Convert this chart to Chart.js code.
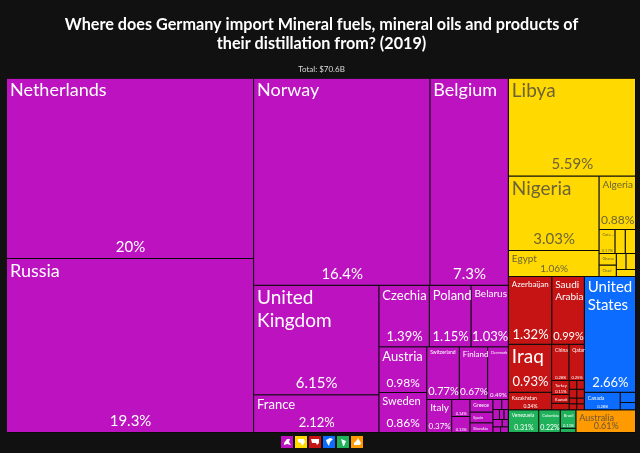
<!DOCTYPE html>
<html>
<head>
<meta charset="utf-8">
<title>Germany mineral fuel imports 2019</title>
<script src="https://cdn.jsdelivr.net/npm/chart.js@4.4.1/dist/chart.umd.min.js"></script>
<style>
	html, body { margin: 0; padding: 0; background: #111111; }
	#wrap { width: 640px; height: 453px; }
</style>
</head>
<body>
<div id="wrap"><canvas id="tree_chart"></canvas></div>

<script>
	// values, empty names are the tiny unlabelled cells
	const regionNames = ["Europe", "Africa", "Asia", "North America", "South America", "Oceania"]
	const regionColors = ["#bc12c0", "#ffd900", "#c61414", "#0b6cff", "#1fb25a", "#ff9a00"]

	const europeNames = ["Netherlands", "Russia", "Norway", "Belgium", "United Kingdom", "France", "Czechia", "Poland", "Belarus", "Austria", "Sweden", "Switzerland", "Finland", "Denmark", "Italy", "", "", "Greece", "Spain", "Slovakia", "", "", "", "", "", "", "", "", ""]
	const europeShares = [20, 19.3, 16.4, 7.3, 6.15, 2.12, 1.39, 1.15, 1.03, 0.98, 0.86, 0.77, 0.67, 0.49, 0.37, 0.14, 0.13, 0.13, 0.11, 0.1, 0.04, 0.03, 0.03, 0.02, 0.02, 0.03, 0.02, 0.02, 0.02]

	const africaNames = ["Libya", "Nigeria", "Egypt", "Algeria", "Cote...", "", "", "Ghana", "Chad", "", "", ""]
	const africaShares = [5.59, 3.03, 1.06, 0.88, 0.17, 0.11, 0.11, 0.09, 0.09, 0.07, 0.07, 0.06]

	const asiaNames = ["Azerbaijan", "Saudi Arabia", "Iraq", "Kazakhstan", "China", "Qatar", "Turkey", "Kuwait", "", "", "", "", "", "", "", "", ""]
	const asiaShares = [1.32, 0.99, 0.93, 0.34, 0.28, 0.25, 0.11, 0.07, 0.05, 0.03, 0.03, 0.03, 0.03, 0.02, 0.02, 0.02, 0.02]

	const northNames = ["United States", "Canada", "", ""]
	const northShares = [2.66, 0.28, 0.07, 0.05]

	const southNames = ["Venezuela", "Colombia", "Brazil", ""]
	const southShares = [0.31, 0.22, 0.13, 0.03]

	const oceaniaNames = ["Australia"]
	const oceaniaShares = [0.61]

	// [name size, share size] of the labels, other cells stay without text
	const labelSizes = {
		"Netherlands": [18, 15], "Russia": [18, 15], "Norway": [18, 15], "Belgium": [18, 15],
		"United Kingdom": [19, 15], "France": [13, 13], "Czechia": [13, 13], "Poland": [13, 13], "Belarus": [10, 13],
		"Austria": [13, 12], "Sweden": [11, 12], "Switzerland": [5, 11], "Finland": [8, 10], "Denmark": [4, 6],
		"Italy": [10, 8], "0.14": [0, 4], "0.13": [0, 4], "Greece": [5, 0], "Spain": [4, 0], "Slovakia": [4, 0],
		"Libya": [19, 15], "Nigeria": [19, 15], "Egypt": [10, 10], "Algeria": [10, 12], "Cote...": [4, 4], "Ghana": [4, 0], "Chad": [4, 0],
		"Azerbaijan": [8, 13], "Saudi Arabia": [10, 11], "Iraq": [19, 13], "Kazakhstan": [5, 5], "China": [5, 4], "Qatar": [5, 4],
		"Turkey": [4, 4], "Kuwait": [4, 0],
		"United States": [15, 13], "Canada": [5, 4],
		"Venezuela": [5, 7], "Colombia": [4, 7], "Brazil": [4, 4], "Australia": [9, 9]
	}

	var regionData = [
		[europeNames, europeShares], [africaNames, africaShares], [asiaNames, asiaShares],
		[northNames, northShares], [southNames, southShares], [oceaniaNames, oceaniaShares]
	]

	// how the cells nest: h = side by side, v = stacked, numbers index the region's arrays
	function r(region, list){ return list.map((i) => (typeof i == "number") ? [region, i] : i) }
	const eu = (...l) => r(0, l), af = (...l) => r(1, l), as = (...l) => r(2, l)
	const na = (...l) => r(3, l), sa = (...l) => r(4, l)

	const tree = {h: [
		{h: [
			{v: eu(0, 1)},
			{v: [
				{h: eu(2, 3)},
				{h: [
					{v: eu(4, 5)},
					{v: [
						{h: eu(6, 7, 8)},
						{h: [
							{v: eu(9, 10)},
							{v: [
								{h: eu(11, 12, 13)},
								{h: eu(14, {v: eu(15, 16)}, {v: eu(17, 18, 19)}, {v: [
									{h: eu(20, 21)}, {h: eu(22, 23, 24)}, {h: eu(25, 26)}, {h: eu(27, 28)}
								]})}
							]}
						]}
					]}
				]}
			]}
		]},
		{v: [
			{v: [
				{v: af(0)},
				{h: [
					{v: af(1, 2)},
					{v: [
						{v: af(3)},
						{v: [
							{h: af(4, 5, 6)},
							{h: [{v: af(7, 8)}, {v: [{h: af(9, 10)}, {v: af(11)}]}]}
						]}
					]}
				]}
			]},
			{v: [
				{h: [
					{v: [
						{h: as(0, 1)},
						{h: [
							{v: as(2, 3)},
							{v: [
								{h: as(4, 5)},
								{h: [
									{v: as(6, 7, 8)},
									{v: [{h: as(9, 10)}, {h: as(11, 12)}, {h: as(13, 14)}, {h: as(15, 16)}]}
								]}
							]}
						]}
					]},
					{v: [
						{v: na(0)},
						{h: [{v: na(1)}, {v: na(2, 3)}]}
					]}
				]},
				{h: [
					{h: sa(0, 1, {v: sa(2, 3)})},
					{v: [[5, 0]]}
				]}
			]}
		]}
	]}

	function total(node){
		if(Array.isArray(node)) return regionData[node[0]][1][node[1]]
		return (node.h || node.v).reduce((s, c) => s + total(c), 0)
	}

	// slices the 0..100 square along the tree, sizes follow the shares
	var cells = regionNames.map(() => [])
	function place(node, x0, x1, y0, y1){
		if(Array.isArray(node)){
			cells[node[0]].push({x: (x0 + x1) / 2, y: [y0, y1], x0: x0, x1: x1, name: regionData[node[0]][0][node[1]], share: regionData[node[0]][1][node[1]]})
			return
		}
		var kids = node.h || node.v
		var sum = total(node)
		var at = node.h ? x0 : y1
		kids.forEach((c) => {
			var part = total(c) / sum
			if(node.h){
				var w = (x1 - x0) * part
				place(c, at, at + w, y0, y1)
				at += w
			}else{
				var d = (y1 - y0) * part
				place(c, x0, x1, at - d, at)
				at -= d
			}
		})
	}
	place(tree, 0, 100, 0, 100)

	// bar controller that takes each bar's width from its own x0..x1 range
	class CellController extends Chart.BarController {
		_calculateBarIndexPixels(index){
			var d = this.getDataset().data[index]
			var sc = this._cachedMeta.iScale
			var a = sc.getPixelForValue(d.x0), b = sc.getPixelForValue(d.x1)
			return {base: a, head: b, center: (a + b) / 2, size: b - a}
		}
	}
	CellController.id = "cell"
	CellController.defaults = Chart.BarController.defaults
	Chart.register(CellController)

	function wrap(ctx, text, maxw){
		var lines = [], line = ""
		text.split(" ").forEach((w) => {
			var t = line ? line + " " + w : w
			if(line && ctx.measureText(t).width > maxw){ lines.push(line); line = w } else line = t
		})
		lines.push(line)
		return lines
	}

	const cellLabels = {
		id: "cellLabels",
		afterDatasetsDraw(chart){
			var ctx = chart.ctx
			var xs = chart.scales.x, ys = chart.scales.y
			ctx.save()
			cells.forEach((list, region) => {
				ctx.fillStyle = (region == 1 || region == 5) ? "rgba(70,70,70,0.8)" : "#ffffff"
				list.forEach((c) => {
					var size = labelSizes[c.name || c.share]
					if(!size) return
					var left = xs.getPixelForValue(c.x0), right = xs.getPixelForValue(c.x1)
					var top = ys.getPixelForValue(c.y[1]), bottom = ys.getPixelForValue(c.y[0])
					if(size[0]){
						ctx.font = size[0] + "px Lato"
						ctx.textAlign = "left"
						ctx.textBaseline = "top"
						wrap(ctx, c.name, right - left - 4).forEach((l, i) => {
							ctx.fillText(l, left + 3, top + 3 + i * size[0] * 1.2)
						})
					}
					if(size[1]){
						ctx.font = size[1] + "px Lato"
						ctx.textAlign = "center"
						ctx.textBaseline = "middle"
						ctx.fillText(c.share + "%", (left + right) / 2, bottom - size[1] * 0.8)
					}
				})
			})
			ctx.restore()
		}
	}

	// little continent squares under the map
	const regionIcons = [
		[[3,7],[6,3],[9,3],[8,6],[10,9],[6,8],[3,9]],
		[[3,3],[9,3],[10,6],[7,10],[6,7],[3,6]],
		[[2,3],[10,3],[10,7],[8,9],[7,7],[3,7]],
		[[3,4],[7,2],[10,3],[7,6],[6,10],[4,7]],
		[[4,3],[9,5],[7,10],[6,10],[5,6]],
		[[3,7],[6,4],[7,2],[10,7],[9,9],[3,9]]
	]
	const iconRow = {
		id: "iconRow",
		afterDraw(chart){
			var ctx = chart.ctx
			var x = chart.width / 2 - 39
			var y = chart.chartArea.bottom + 3
			ctx.save()
			regionColors.forEach((color, i) => {
				ctx.fillStyle = color
				ctx.fillRect(x + i * 14, y, 12, 12)
				ctx.fillStyle = "#ffffff"
				ctx.beginPath()
				regionIcons[i].forEach((p) => ctx.lineTo(x + i * 14 + p[0], y + p[1]))
				ctx.fill()
			})
			ctx.restore()
		}
	}

	let chart = new Chart(document.getElementById("tree_chart").getContext("2d"), {
		type: "cell",
		data: {
			datasets: regionNames.map((name, i) => ({
				label: name,
				data: cells[i],
				backgroundColor: regionColors[i],
				borderColor: "rgba(0,0,0,0.4)",
				borderWidth: {top: 0, left: 0, right: 1, bottom: 1},
				borderSkipped: false,
				inflateAmount: 0,
				grouped: false
			}))
		},
		options: {
			animation: false,
			responsive: true,
			maintainAspectRatio: false,
			layout: {padding: {left: 7, right: 4, top: 0, bottom: 20}},
			scales: {
				x: {type: "linear", min: 0, max: 100, display: false, offset: false},
				y: {type: "linear", min: 0, max: 100, display: false}
			},
			plugins: {
				legend: {display: false},
				tooltip: {enabled: false},
				title: {
					display: true,
					text: ["Where does Germany import Mineral fuels, mineral oils and products of", "their distillation from? (2019)"],
					color: "#ffffff",
					font: {family: "Lato", size: 16.2, weight: "bold", lineHeight: 1.17},
					padding: {top: 15, bottom: 12}
				},
				subtitle: {
					display: true,
					text: "Total: $70.6B",
					color: "#dddddd",
					font: {family: "Lato", size: 8},
					padding: {top: 0, bottom: 4}
				}
			}
		},
		plugins: [cellLabels, iconRow]
	});
</script>
</body>
</html>
